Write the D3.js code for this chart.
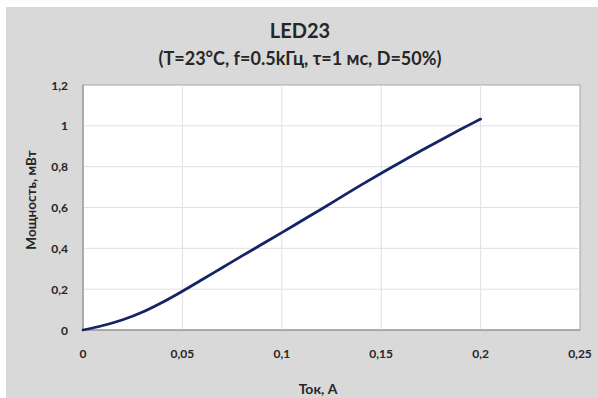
<!DOCTYPE html>
<html><head><meta charset="utf-8">
<script src="https://cdn.jsdelivr.net/npm/d3@7"></script>
<style>body{margin:0;background:#fff}svg{display:block}text{font-family:Lato,"Open Sans",sans-serif;font-weight:bold;fill:#262626}</style>
</head><body>
<script>
const current = [0,0.01,0.02,0.03,0.04,0.05,0.06,0.07,0.08,0.09,0.1,0.11,0.12,0.13,0.14,0.15,0.16,0.17,0.18,0.19,0.2];
const power = [0,0.022,0.05,0.088,0.136,0.19,0.247,0.305,0.363,0.42,0.477,0.535,0.593,0.652,0.711,0.768,0.823,0.878,0.931,0.983,1.033];
const xTicks = [0,0.05,0.1,0.15,0.2,0.25];
const yTicks = [0,0.2,0.4,0.6,0.8,1,1.2];
const title = "LED23";
const subtitle = "(T=23°C, f=0.5kГц, τ=1 мс, D=50%)";
const xTitle = "Ток, А";
const yTitle = "Мощность, мВт";

const W=598,H=398;
const svg=d3.select("body").append("svg").attr("width",W).attr("height",H);
svg.append("rect").attr("x",6).attr("y",7).attr("width",W-6).attr("height",H-7).attr("fill","#d9d9d9");

const L=83,R=580,T=85,B=330;
const x=d3.scaleLinear().domain([0,0.25]).range([L,R]);
const y=d3.scaleLinear().domain([0,1.2]).range([B,T]);
const fmt=d=>String(d).replace(".",",");

svg.append("rect").attr("x",L).attr("y",T).attr("width",R-L).attr("height",B-T).attr("fill","#fff").attr("stroke","#a6a6a6");
svg.append("g").selectAll("line").data(xTicks.slice(1,-1)).join("line")
  .attr("x1",d=>x(d)).attr("x2",d=>x(d)).attr("y1",T).attr("y2",B).attr("stroke","#e0e0e0");
svg.append("g").selectAll("line").data(yTicks.slice(1,-1)).join("line")
  .attr("y1",d=>y(d)).attr("y2",d=>y(d)).attr("x1",L).attr("x2",R).attr("stroke","#e0e0e0");
svg.append("line").attr("x1",L).attr("x2",L).attr("y1",T).attr("y2",B).attr("stroke","#8c8c8c");
svg.append("line").attr("x1",L).attr("x2",R).attr("y1",B).attr("y2",B).attr("stroke","#8c8c8c");

svg.append("g").selectAll("text").data(yTicks).join("text")
  .attr("x",68).attr("y",d=>y(d)+1.5).attr("text-anchor","end").attr("dominant-baseline","middle")
  .attr("font-size",12).text(fmt);
svg.append("g").selectAll("text").data(xTicks).join("text")
  .attr("x",d=>x(d)).attr("y",355).attr("text-anchor","middle").attr("dominant-baseline","middle")
  .attr("font-size",12).text(fmt);

const line=d3.line().x((d,i)=>x(current[i])).y(d=>y(d)).curve(d3.curveCatmullRom.alpha(0.5));
svg.append("path").datum(power).attr("d",line).attr("fill","none").attr("stroke","#142466").attr("stroke-width",2.8).attr("stroke-linecap","round");

svg.append("text").attr("x",300).attr("y",38).attr("text-anchor","middle").attr("font-size",20).text(title);
svg.append("text").attr("x",300).attr("y",65).attr("text-anchor","middle").attr("font-size",18).text(subtitle);
svg.append("text").attr("x",318).attr("y",394).attr("text-anchor","middle").attr("font-size",14).text(xTitle);
svg.append("text").attr("transform","translate(33,200) rotate(-90)").attr("text-anchor","middle").attr("dominant-baseline","middle").attr("font-size",13.5).text(yTitle);
</script>
</body></html>
